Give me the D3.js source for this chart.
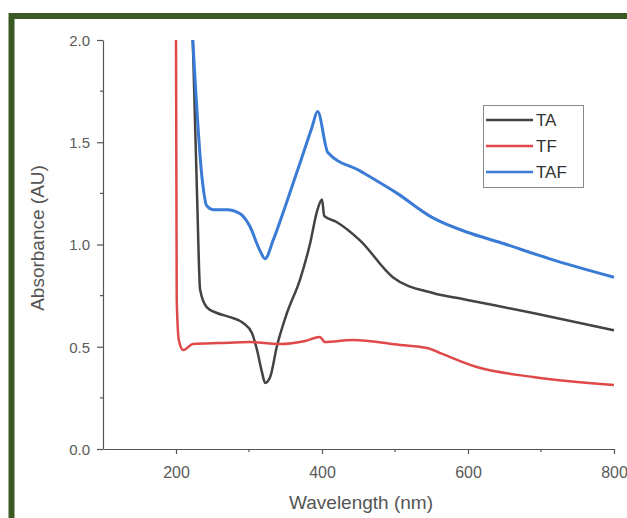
<!DOCTYPE html>
<html>
<head>
<meta charset="utf-8">
<script src="https://cdn.jsdelivr.net/npm/d3@7"></script>
<style>
  body { margin: 0; background: #fff; }
  svg { display: block; }
</style>
</head>
<body>
<svg id="chart"></svg>
<script>
// wavelength (nm) / absorbance (AU)
var taWave = [223, 229, 233, 242, 256, 274, 292, 304, 311, 318, 322, 329, 338, 352, 370, 384, 393, 400, 403, 420, 452, 497, 552, 599, 689, 800];
var taAbs  = [2.0, 1.22, 0.78, 0.694, 0.665, 0.645, 0.616, 0.567, 0.484, 0.372, 0.323, 0.352, 0.499, 0.665, 0.83, 1.01, 1.16, 1.22, 1.14, 1.11, 1.02, 0.84, 0.763, 0.729, 0.665, 0.58];

var tfWave = [200, 201, 204, 210, 223, 260, 301, 342, 377, 397, 404, 442, 507, 544, 562, 612, 689, 800];
var tfAbs  = [2.0, 0.73, 0.53, 0.484, 0.513, 0.518, 0.523, 0.513, 0.528, 0.548, 0.523, 0.533, 0.509, 0.494, 0.469, 0.401, 0.352, 0.313];

var tafWave = [223, 236, 242, 251, 270, 288, 301, 315, 322, 333, 350, 370, 386, 394, 408, 452, 503, 552, 599, 644, 712, 800];
var tafAbs  = [2.0, 1.315, 1.19, 1.17, 1.17, 1.15, 1.09, 0.97, 0.93, 1.02, 1.19, 1.40, 1.57, 1.65, 1.45, 1.36, 1.25, 1.13, 1.06, 1.01, 0.93, 0.84];

var seriesNames = ["TA", "TF", "TAF"];
var xTicks = [200, 400, 600, 800];
var xMinor = [300, 500, 700];
var yTicks = [0.0, 0.5, 1.0, 1.5, 2.0];
var yMinor = [0.25, 0.75, 1.25, 1.75];

var colors = {TA: "#434343", TF: "#e0494a", TAF: "#3a7bd5"};

function pairs(w, a) {
  return w.map(function(d, i) { return {w: d, a: a[i]}; });
}
var series = [
  {name: "TA", values: pairs(taWave, taAbs)},
  {name: "TF", values: pairs(tfWave, tfAbs)},
  {name: "TAF", values: pairs(tafWave, tafAbs)}
];

var W = 627, H = 518;
var svg = d3.select("#chart").attr("width", W).attr("height", H);

// frame
svg.append("path")
  .attr("d", "M11.5,518 L11.5,16 L627,16")
  .attr("fill", "none")
  .attr("stroke", "#3b5a23")
  .attr("stroke-width", 6);

var x = d3.scaleLinear().domain([100, 800]).range([103, 614]);
var y = d3.scaleLinear().domain([0, 2]).range([449, 40]);

var axisCol = "#555";
var font = "Arial, 'Liberation Sans', sans-serif";

// x axis
var gx = svg.append("g").attr("transform", "translate(0,449)")
  .call(d3.axisBottom(x).tickValues(xTicks).tickSize(5).tickSizeOuter(0).tickFormat(d3.format("d")));
gx.append("g").selectAll("line").data(xMinor).enter().append("line")
  .attr("x1", function(d) { return x(d); }).attr("x2", function(d) { return x(d); })
  .attr("y1", 0).attr("y2", 3);

// y axis
var gy = svg.append("g").attr("transform", "translate(103,0)")
  .call(d3.axisLeft(y).tickValues(yTicks).tickSize(6).tickSizeOuter(0).tickFormat(d3.format(".1f")));
gy.append("g").selectAll("line").data(yMinor).enter().append("line")
  .attr("y1", function(d) { return y(d); }).attr("y2", function(d) { return y(d); })
  .attr("x1", 0).attr("x2", -3);

[gx, gy].forEach(function(g) {
  g.selectAll("path, line").attr("stroke", axisCol).attr("stroke-width", 1.2);
  g.selectAll("text").attr("fill", "#5a5a5a").style("font-family", font).style("font-size", "15px");
});
gx.selectAll(".tick text").style("font-size", "16px").attr("y", 29).attr("dy", 0);
gy.selectAll(".tick text").attr("x", -13).attr("dy", "0.35em");

// axis titles
svg.append("text")
  .attr("transform", "translate(44,238) rotate(-90)")
  .attr("text-anchor", "middle")
  .style("font-family", font).style("font-size", "19px")
  .attr("fill", "#555")
  .text("Absorbance (AU)");

svg.append("text")
  .attr("x", 361).attr("y", 509)
  .attr("text-anchor", "middle")
  .style("font-family", font).style("font-size", "19px")
  .attr("fill", "#555")
  .text("Wavelength (nm)");

// lines
var line = d3.line()
  .x(function(d) { return x(d.w); })
  .y(function(d) { return y(d.a); })
  .curve(d3.curveMonotoneX);

svg.append("g").selectAll("path").data(series).enter().append("path")
  .attr("d", function(d) { return line(d.values); })
  .attr("fill", "none")
  .attr("stroke", function(d) { return colors[d.name]; })
  .attr("stroke-width", function(d) { return d.name == "TAF" ? 3 : 2.5; })
  .attr("stroke-linejoin", "round");

// legend
var lg = svg.append("g");
lg.append("rect")
  .attr("x", 483.5).attr("y", 105.5).attr("width", 100).attr("height", 82)
  .attr("fill", "#fff").attr("stroke", "#888").attr("stroke-width", 1);
seriesNames.forEach(function(n, i) {
  var yy = 120 + i * 26;
  lg.append("line")
    .attr("x1", 486).attr("x2", 533).attr("y1", yy).attr("y2", yy)
    .attr("stroke", colors[n]).attr("stroke-width", 2.5);
  lg.append("text")
    .attr("x", 536).attr("y", yy + 6)
    .style("font-family", font).style("font-size", "17px")
    .attr("fill", "#333")
    .text(n);
});
</script>
</body>
</html>
